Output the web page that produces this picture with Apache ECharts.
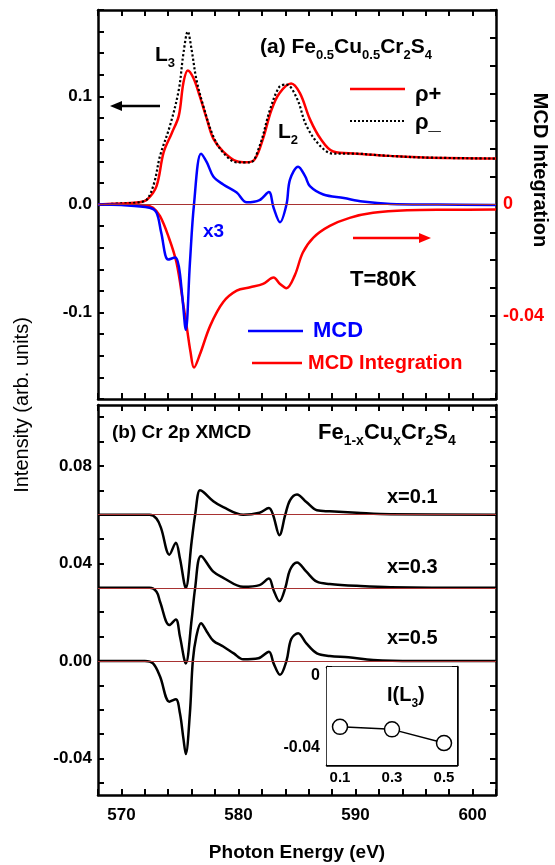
<!DOCTYPE html>
<html>
<head>
<meta charset="utf-8">
<script src="https://cdn.jsdelivr.net/npm/echarts@6/dist/echarts.min.js"></script>
<style>
  html, body { margin: 0; padding: 0; background: #fff; }
  #chart { width: 555px; height: 865px; }
</style>
</head>
<body>
<div id="chart"></div>
<script>
// ---- data ----
// (a) XAS for the two helicities, Fe0.5Cu0.5Cr2S4
const rhoPlusE = [568, 570, 571.5, 572.2, 573.0, 573.6, 574.3, 574.9, 575.3, 575.67, 576.15, 576.7, 577.3, 577.85, 578.7, 579.85, 580.7, 581.4, 582.1, 582.8, 583.5, 584.5, 585.25, 586.1, 587, 588.1, 590.1, 591.5, 592.9, 595.8, 602];
const rhoPlusI = [0.0, 0.001, 0.002, 0.0046, 0.017, 0.048, 0.066, 0.082, 0.113, 0.124, 0.117, 0.100, 0.079, 0.061, 0.049, 0.040, 0.039, 0.042, 0.061, 0.087, 0.103, 0.112, 0.103, 0.079, 0.061, 0.049, 0.047, 0.046, 0.045, 0.0435, 0.0425];
const rhoMinusE = [568, 570, 571.5, 572.2, 572.8, 573.3, 574.15, 574.9, 575.3, 575.67, 576.0, 576.4, 577.0, 577.85, 578.7, 579.85, 581.0, 581.8, 582.7, 583.5, 584.1, 585.0, 585.8, 587, 588.1, 590.1, 591.5, 592.9, 595.8, 602];
const rhoMinusI = [0.0, 0.001, 0.002, 0.005, 0.02, 0.045, 0.073, 0.106, 0.140, 0.160, 0.143, 0.116, 0.091, 0.063, 0.048, 0.039, 0.039, 0.054, 0.088, 0.109, 0.111, 0.098, 0.073, 0.054, 0.047, 0.047, 0.046, 0.045, 0.0435, 0.0425];
// MCD (x3), left axis
const mcdE = [568, 570, 572.4, 573.0, 573.4, 574.0, 574.6, 574.9, 575.2, 575.5, 575.85, 576.2, 576.8, 577.3, 577.85, 578.7, 579.85, 580.7, 581.8, 582.6, 583.0, 583.55, 584.1, 584.4, 585.1, 585.7, 586.1, 587.25, 589, 590.6, 593, 597, 602];
const mcdI = [0, -0.0005, -0.003, -0.0077, -0.026, -0.051, -0.049, -0.057, -0.085, -0.116, -0.0545, 0.0, 0.047, 0.039, 0.026, 0.0185, 0.011, 0.002, 0.004, 0.0115, -0.003, -0.0164, 0.0, 0.023, 0.035, 0.026, 0.017, 0.0093, 0.006, 0.0027, 0.0005, 0, -0.0005];
// MCD integration, right axis
const intE = [568, 570, 572.0, 572.7, 573.3, 574.0, 574.7, 575.3, 575.6, 575.9, 576.2, 576.7, 577.6, 578.7, 579.85, 581.0, 582.1, 583.0, 583.55, 584.1, 584.8, 585.5, 586.4, 587.8, 589.5, 591.5, 594.4, 598, 602];
const intI = [0, 0, -0.0003, -0.0012, -0.0042, -0.0113, -0.0208, -0.0363, -0.0446, -0.053, -0.0587, -0.054, -0.0435, -0.0351, -0.031, -0.0298, -0.0286, -0.0263, -0.0286, -0.0301, -0.0256, -0.0173, -0.0119, -0.0077, -0.0048, -0.003, -0.0021, -0.0019, -0.0018];

// (b) Cr 2p XMCD, Fe1-xCuxCr2S4 (curves as plotted, with their offsets)
const x01E = [568, 572.4, 573.0, 573.4, 574.1, 574.65, 575.0, 575.5, 576.0, 576.3, 576.7, 577.0, 577.85, 578.7, 580.4, 581.8, 582.6, 582.95, 583.5, 584.0, 584.4, 585.0, 585.8, 586.7, 587.8, 590.1, 593, 602];
const x01I = [0.06, 0.06, 0.0584, 0.0543, 0.0436, 0.0485, 0.042, 0.030, 0.049, 0.06, 0.070, 0.0693, 0.0655, 0.0631, 0.06, 0.0608, 0.0627, 0.06, 0.0516, 0.06, 0.0659, 0.0683, 0.0652, 0.0618, 0.0614, 0.0608, 0.0602, 0.06];
const x03E = [568, 572.4, 573.0, 573.3, 574.1, 574.65, 575.0, 575.5, 576.0, 576.3, 576.8, 577.85, 578.7, 580.4, 581.8, 582.6, 583.0, 583.5, 584.0, 584.4, 585.0, 585.8, 586.7, 587.8, 590.1, 593, 602];
const x03I = [0.03, 0.03, 0.0284, 0.0243, 0.0147, 0.017, 0.010, -0.001, 0.017, 0.03, 0.0431, 0.0366, 0.0341, 0.0304, 0.0311, 0.0338, 0.029, 0.0245, 0.03, 0.0373, 0.0404, 0.0366, 0.0325, 0.0316, 0.0308, 0.0302, 0.03];
const x05E = [568, 572.0, 572.7, 573.3, 574.1, 574.65, 575.0, 575.3, 575.5, 575.85, 576.1, 576.4, 576.8, 577.3, 577.85, 578.7, 579.6, 580.4, 581.7, 582.6, 583.0, 583.55, 584.1, 584.5, 585.1, 585.8, 586.7, 587.8, 589.4, 591.5, 595, 602];
const x05I = [0, 0, -0.001, -0.0064, -0.0167, -0.0157, -0.0215, -0.032, -0.0382, -0.0215, 0, 0.010, 0.0155, 0.012, 0.0083, 0.0059, 0.0031, 0.0007, 0.0011, 0.0038, -0.001, -0.0057, 0, 0.0089, 0.0114, 0.0072, 0.0031, 0.002, 0.0015, 0.0004, 0, 0];
const baselines = [0.06, 0.03, 0.0];

// inset I(L3)
const insetX = [0.1, 0.3, 0.5];
const insetY = [-0.0286, -0.030, -0.0377];

// tick labels
const energyLabels = [570, 580, 590, 600];
const topLeftLabels = [-0.1, 0, 0.1];
const topRightLabels = [-0.04, 0];
const bottomLabels = [-0.04, 0, 0.04, 0.08];
const bottomTicks = [-0.05, -0.04, -0.03, -0.02, -0.01, 0, 0.01, 0.02, 0.03, 0.04, 0.05, 0.06, 0.07, 0.08, 0.09, 0.1];
const insetXLabels = [0.1, 0.3, 0.5];
const insetXTicks = [0.1, 0.2, 0.3, 0.4, 0.5];
const insetYLabels = [-0.04, 0];

// ---- chart ----
const FONT = 'Liberation Sans, Arial, sans-serif';
const pairs = (xs, ys) => xs.map((x, i) => [x, ys[i]]);
const chart = echarts.init(document.getElementById('chart'), null, { renderer: 'canvas' });

const frameLine = { show: true, onZero: false, lineStyle: { color: '#000', width: 2.5 } };
const tickIn = (len) => ({ show: true, inside: true, length: len, lineStyle: { color: '#000', width: 2 } });
const labelStyle = { fontFamily: FONT, fontWeight: 'bold', fontSize: 17, color: '#000' };

const xEnergy = (grid, pos, showLabel) => ({
  type: 'value', gridIndex: grid, position: pos, min: 568, max: 602, interval: 2,
  axisLine: frameLine, axisTick: tickIn(6), splitLine: { show: false },
  axisLabel: showLabel
    ? Object.assign({ customValues: energyLabels, margin: 12 }, labelStyle)
    : { show: false }
});

const baseLine = (v) => ({
  silent: true, symbol: 'none', animation: false,
  label: { show: false },
  lineStyle: { color: '#a83232', width: 1, type: 'solid' },
  data: [{ yAxis: v }]
});

const line = (xi, yi, xs, ys, color, width, type, extra) => Object.assign({
  type: 'line', xAxisIndex: xi, yAxisIndex: yi, data: pairs(xs, ys),
  showSymbol: false, smooth: 0.35,
  lineStyle: { color: color, width: width, type: type || 'solid', join: 'round' },
  itemStyle: { color: color }
}, extra || {});

const txt = (x, y, text, size, color, opts, rot) => ({
  type: 'text', x: x, y: y, z: 100, rotation: rot || 0,
  style: Object.assign({
    text: text, fontFamily: FONT, fontWeight: 'bold', fontSize: size,
    fill: color || '#000', verticalAlign: 'middle'
  }, opts || {})
});
const subRich = (size) => ({
  s: { fontFamily: FONT, fontWeight: 'bold', fontSize: size, lineHeight: 30, verticalAlign: 'bottom' },
  m: { verticalAlign: 'middle' }
});
const seg = (x1, y1, x2, y2, color, width, dash) => ({
  type: 'line', z: 100, shape: { x1: x1, y1: y1, x2: x2, y2: y2 },
  style: { stroke: color, lineWidth: width, lineDash: dash || null }
});

chart.setOption({
  animation: false,
  backgroundColor: '#fff',
  grid: [
    { left: 98, top: 10, width: 398, height: 389 },
    { left: 98, top: 405, width: 398, height: 390 },
    { left: 327, top: 667, width: 130, height: 98, backgroundColor: '#fff', show: true, borderWidth: 0, z: 5 }
  ],
  xAxis: [
    xEnergy(0, 'bottom', false),
    xEnergy(0, 'top', false),
    xEnergy(1, 'bottom', true),
    xEnergy(1, 'top', false),
    {
      type: 'value', gridIndex: 2, position: 'bottom', min: 0.05, max: 0.55,
      axisLine: frameLine, splitLine: { show: false },
      axisTick: Object.assign(tickIn(5), { customValues: insetXTicks }),
      axisLabel: Object.assign({ customValues: insetXLabels, margin: 5, formatter: (v) => v.toFixed(1) }, labelStyle, { fontSize: 15 })
    },
    {
      type: 'value', gridIndex: 2, position: 'top', min: 0.05, max: 0.55,
      axisLine: frameLine, splitLine: { show: false },
      axisTick: Object.assign(tickIn(5), { customValues: insetXTicks }),
      axisLabel: { show: false }
    }
  ],
  yAxis: [
    {
      type: 'value', gridIndex: 0, position: 'left', min: -0.18, max: 0.18, interval: 0.02,
      axisLine: frameLine, axisTick: tickIn(6), splitLine: { show: false },
      axisLabel: Object.assign({ customValues: topLeftLabels, margin: 6, formatter: (v) => v.toFixed(1) }, labelStyle)
    },
    {
      type: 'value', gridIndex: 0, position: 'right', min: -0.07, max: 0.07, interval: 0.01,
      axisLine: frameLine, axisTick: tickIn(6), splitLine: { show: false },
      axisLabel: Object.assign({}, labelStyle, {
        customValues: topRightLabels, margin: 7, color: '#f00', fontSize: 18,
        formatter: (v) => (Math.abs(v) < 1e-9 ? '0' : v.toFixed(2))
      })
    },
    {
      type: 'value', gridIndex: 1, position: 'left', min: -0.055, max: 0.105,
      axisLine: frameLine, splitLine: { show: false },
      axisTick: Object.assign(tickIn(6), { customValues: bottomTicks }),
      axisLabel: Object.assign({ customValues: bottomLabels, margin: 6, formatter: (v) => v.toFixed(2) }, labelStyle)
    },
    {
      type: 'value', gridIndex: 1, position: 'right', min: -0.055, max: 0.105,
      axisLine: frameLine, splitLine: { show: false },
      axisTick: Object.assign(tickIn(6), { customValues: bottomTicks }),
      axisLabel: { show: false }
    },
    {
      type: 'value', gridIndex: 2, position: 'left', min: -0.05, max: 0.005, interval: 0.01,
      axisLine: frameLine, axisTick: tickIn(5), splitLine: { show: false },
      axisLabel: Object.assign({}, labelStyle, {
        customValues: insetYLabels, margin: 7, fontSize: 16,
        formatter: (v) => (Math.abs(v) < 1e-9 ? '0' : v.toFixed(2))
      })
    },
    {
      type: 'value', gridIndex: 2, position: 'right', min: -0.05, max: 0.005, interval: 0.01,
      axisLine: frameLine, axisTick: tickIn(5), splitLine: { show: false },
      axisLabel: { show: false }
    }
  ],
  series: [
    line(0, 0, rhoPlusE, rhoPlusI, '#ff0000', 2.5, 'solid', { markLine: baseLine(0) }),
    line(0, 0, rhoMinusE, rhoMinusI, '#000', 2.2, 'dotted'),
    line(0, 1, intE, intI, '#ff0000', 2.5),
    line(0, 0, mcdE, mcdI, '#0000ff', 2.5),
    line(2, 2, x01E, x01I, '#000', 2.5, 'solid', { markLine: baseLine(baselines[0]) }),
    line(2, 2, x03E, x03I, '#000', 2.5, 'solid', { markLine: baseLine(baselines[1]) }),
    line(2, 2, x05E, x05I, '#000', 2.5, 'solid', { markLine: baseLine(baselines[2]) }),
    {
      type: 'line', xAxisIndex: 4, yAxisIndex: 4, data: pairs(insetX, insetY), z: 10,
      symbol: 'circle', symbolSize: 15, showSymbol: true,
      lineStyle: { color: '#000', width: 1.5 },
      itemStyle: { color: '#fff', borderColor: '#000', borderWidth: 1.5 }
    }
  ],
  graphic: [
    // axis titles
    txt(22, 405, 'Intensity (arb. units)', 20, '#000', { align: 'center', fontWeight: 'normal' }, Math.PI / 2),
    txt(540, 170, 'MCD Integration', 20, '#000', { align: 'center' }, -Math.PI / 2),
    txt(297, 853, 'Photon Energy (eV)', 19, '#000', { align: 'center' }),
    // panel (a)
    txt(260, 47, '{m|(a) Fe}{s|0.5}{m|Cu}{s|0.5}{m|Cr}{s|2}{m|S}{s|4}', 21, '#000', { rich: subRich(13) }),
    txt(155, 55, '{m|L}{s|3}', 21, '#000', { rich: subRich(13) }),
    txt(278, 132, '{m|L}{s|2}', 21, '#000', { rich: subRich(13) }),
    txt(203, 232, 'x3', 19, '#0000ff'),
    txt(350, 280, 'T=80K', 22, '#000'),
    seg(350, 89, 405, 89, '#ff0000', 2.5),
    txt(415, 95, 'ρ+', 22, '#000'),
    seg(350, 121, 405, 121, '#000', 2.2, [2, 2]),
    txt(415, 123, 'ρ_', 22, '#000'),
    seg(248, 331, 303, 331, '#0000ff', 2.5),
    txt(313, 331, 'MCD', 22, '#0000ff'),
    seg(252, 363, 302, 363, '#ff0000', 2.5),
    txt(308, 363, 'MCD Integration', 20, '#ff0000'),
    seg(160, 106, 118, 106, '#000', 2.5),
    { type: 'polygon', z: 100, shape: { points: [[110, 106], [122, 101], [122, 111]] }, style: { fill: '#000' } },
    seg(353, 238, 420, 238, '#ff0000', 2.5),
    { type: 'polygon', z: 100, shape: { points: [[431, 238], [419, 233], [419, 243]] }, style: { fill: '#ff0000' } },
    // panel (b)
    txt(112, 433, '(b) Cr 2p XMCD', 19, '#000'),
    txt(318, 433, '{m|Fe}{s|1-x}{m|Cu}{s|x}{m|Cr}{s|2}{m|S}{s|4}', 22, '#000', { rich: subRich(14) }),
    txt(387, 497, 'x=0.1', 20, '#000'),
    txt(387, 567, 'x=0.3', 20, '#000'),
    txt(387, 638, 'x=0.5', 20, '#000'),
    txt(387, 695, '{m|I(L}{s|3}{m|)}', 20, '#000', { rich: subRich(12) })
  ]
});
</script>
</body>
</html>
